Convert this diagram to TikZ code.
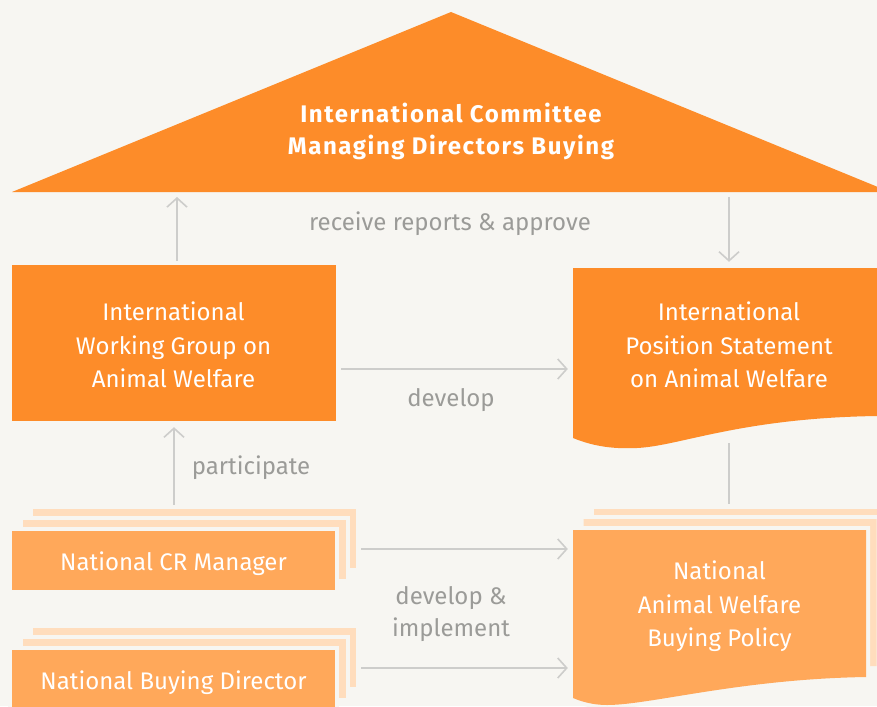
\documentclass[tikz,border=0pt]{standalone}
\usepackage{fontspec}
\setmainfont{Fira Sans}
\newfontfamily\titlefont[LetterSpace=6.5]{Fira Sans}
\usetikzlibrary{arrows.meta}
\definecolor{bgc}{HTML}{F7F6F2}
\definecolor{orD}{HTML}{FD8C29}
\definecolor{orL}{HTML}{FFA85A}
\definecolor{orP}{HTML}{FFDDBD}
\definecolor{grL}{HTML}{CDCDCB}
\definecolor{grT}{HTML}{9B9B98}
\newcommand\polpath{(573,530) -- (866,530) -- (866,677) .. controls (740,679) and (650,705) .. (607,705) .. controls (596,705) and (585,703) .. (573,698) -- cycle}
\begin{document}
\begin{tikzpicture}[x=1pt,y=-1pt,
  txt/.style={text=white, font=\fontsize{24}{33.5}\selectfont, align=center, inner sep=0pt},
  lbl/.style={text=grT, font=\fontsize{24}{32}\selectfont, align=center, inner sep=0pt},
  arr/.style={draw=grL, line width=1.6pt, -{Straight Barb[length=9pt,width=20pt]}},
  conn/.style={draw=grL, line width=1.6pt},
  sbox/.style={fill=orL, minimum width=323pt, minimum height=59pt, inner sep=0pt, preaction={draw=bgc, line width=8pt}},
  slayer/.style={fill=orP, minimum width=323pt, minimum height=59pt, inner sep=0pt, preaction={draw=bgc, line width=8pt}},
]
\fill[bgc] (0,0) rectangle (877,706);
\useasboundingbox (0,0) rectangle (877,706);
\clip (0,0) rectangle (877,706);

% triangle
\path[fill=orD] (12,192) -- (451,12) -- (890,192) -- cycle;
\coordinate (tribase) at (451,192);
\node[txt, font=\titlefont\bfseries\fontsize{24}{32}\selectfont] (tri) at (451,131.5) {International Committee\\Managing Directors Buying};

% international working group
\node[fill=orD, minimum width=324pt, minimum height=156pt, inner sep=0pt] (iwg) at (174,343) {};
\node[txt] (iwgt) at (173.5,345) {International\\Working Group on\\Animal Welfare};

% international position statement (document)
\path[fill=orD] (573,268) -- (890,268) -- (890,415) -- (877,416) .. controls (740,418) and (680,446) .. (637,448) .. controls (615,449) and (595,447) .. (573,438) -- cycle;
\node[txt, minimum width=312pt, minimum height=154pt] (ps) at (729,345) {International\\Position Statement\\on Animal Welfare};

% national CR manager (stack)
\node[slayer] (crm2) at (194.5,538.5) {};
\node[slayer] (crm1) at (184,549.5) {};
\node[sbox] (crm) at (173.5,560.5) {};
\node[txt] (crmt) at (173.5,563.5) {National CR Manager};

% national buying director (stack)
\node[slayer] (bd2) at (194.5,657.5) {};
\node[slayer] (bd1) at (184,668.5) {};
\node[sbox] (bd) at (173.5,679.5) {};
\node[txt] (bdt) at (173.5,683) {National Buying Director};

% national policy (document stack)
\path[fill=orP, preaction={draw=bgc, line width=8pt}, xshift=21pt, yshift=21pt] \polpath;
\path[fill=orP, preaction={draw=bgc, line width=8pt}, xshift=10.5pt, yshift=11pt] \polpath;
\path[fill=orL, preaction={draw=bgc, line width=8pt}] \polpath;
\node[txt, minimum width=293pt, minimum height=147pt] (pol) at (719.5,606.5) {National\\Animal Welfare\\Buying Policy};

% labels
\node[lbl] (lrecv) at (450,224) {receive reports \& approve};
\node[lbl] (ldev) at (451,400.5) {develop};
\node[lbl] (lpart) at (251,468) {participate};
\node[lbl] (ldi) at (451,614) {develop \&\\implement};

% connectors
\draw[arr, shorten <=4pt, shorten >=5pt] ([xshift=3pt]iwg.north) -- ([xshift=3pt]iwg.north |- tribase);
\draw[arr, shorten <=5pt, shorten >=6pt] (ps.north |- tribase) -- (ps.north);
\draw[arr, shorten <=5pt, shorten >=5pt] (iwg.east |- 0,369) -- (ps.west |- 0,369);
\draw[arr, shorten <=4pt, shorten >=6pt] (crm2.north -| iwg.south) -- (iwg.south);
\draw[conn, shorten >=26pt] ([yshift=-21pt]ps.south) -- (ps.south |- 0,530);
\draw[arr, shorten <=5pt, shorten >=5pt] (crm2.east |- 0,549) -- (pol.west |- 0,549);
\draw[arr, shorten <=5pt, shorten >=5pt] (bd2.east |- 0,668) -- (pol.west |- 0,668);
\end{tikzpicture}
\end{document}
